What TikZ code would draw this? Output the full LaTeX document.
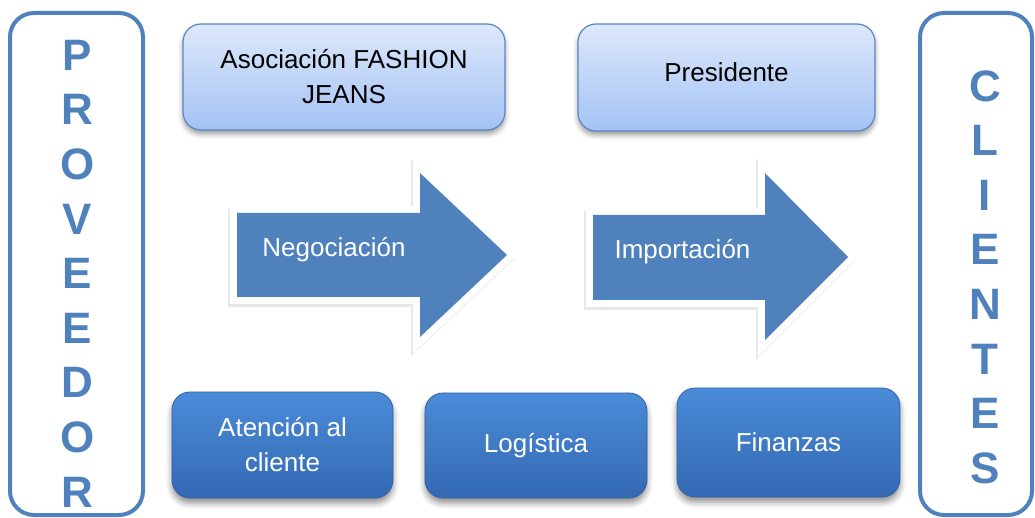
\documentclass[tikz,border=0pt]{standalone}
\usepackage{fontspec}
\setmainfont{Liberation Sans}
\usepackage{xcolor}
\usetikzlibrary{shadows.blur}

\definecolor{sideblue}{HTML}{4F81BD}
\definecolor{lightedge}{HTML}{5A86C4}
\definecolor{lighttop}{HTML}{DDE8FB}
\definecolor{lightbottom}{HTML}{A4C2F4}
\definecolor{darkedge}{HTML}{2F62A6}
\definecolor{darktop}{HTML}{4A8BD8}
\definecolor{darkbottom}{HTML}{3469B3}

\begin{document}
\begin{tikzpicture}[
  x=1pt, y=-1pt,
  every node/.style={font=\fontsize{26}{35}\selectfont},
  sidebox/.style={rectangle, draw=sideblue, line width=4pt,
                  rounded corners=24pt, fill=white, inner sep=0pt},
  sideletters/.style={font=\bfseries\fontsize{44}{54.6}\selectfont,
                      text=sideblue, align=center, inner sep=0pt},
  lightbox/.style={rectangle, rounded corners=18pt, draw=lightedge,
                   line width=1.2pt, top color=lighttop, bottom color=lightbottom,
                   align=center, inner sep=0pt,
                   blur shadow={shadow xshift=0pt, shadow yshift=-4pt,
                                shadow blur radius=5pt, shadow opacity=40}},
  darkbox/.style={rectangle, rounded corners=18pt, draw=darkedge,
                  line width=0.8pt, top color=darktop, bottom color=darkbottom,
                  text=white, align=center, inner sep=0pt,
                  blur shadow={shadow xshift=0pt, shadow yshift=-5pt,
                               shadow blur radius=6pt, shadow opacity=45}},
  arrowhalo/.style={draw=black!9, fill=black!9, line width=14pt,
                    line join=miter, shift={(-2,3)}},
  arrowrim/.style={draw=white, fill=white, line width=14pt, line join=miter},
  arrowfill/.style={fill=sideblue},
  flowlabel/.style={text=white, inner sep=0pt},
]
  \useasboundingbox (0,0) rectangle (1035,518);

  % ── Side columns ─────────────────────────────────
  \node[sidebox, minimum width=133, minimum height=502] (provbox) at (76.5,264) {};
  \node[sidebox, minimum width=112, minimum height=502] (clibox)  at (976,264)  {};
  \node[sideletters] (prov) at (77.5,273.5) {P\\R\\O\\V\\E\\E\\D\\O\\R};
  \node[sideletters] (cli)  at (985,277)    {C\\L\\I\\E\\N\\T\\E\\S};

  % ── Top boxes ────────────────────────────────────
  \node[lightbox, minimum width=322, minimum height=106] (asoc) at (344,77)
       {Asociación FASHION\\JEANS};
  \node[lightbox, minimum width=297, minimum height=107, text depth=10pt]
       (pres) at (726.5,77.5) {Presidente};

  % ── Flow arrows ──────────────────────────────────
  \foreach \lay in {arrowhalo, arrowrim, arrowfill}
    \path[\lay] (237,213) -- (420,213) -- (420,173) -- (507,255)
                -- (420,337) -- (420,297) -- (237,297) -- cycle;
  \foreach \lay in {arrowhalo, arrowrim, arrowfill}
    \path[\lay] (593,215) -- (765,215) -- (765,173) -- (848,257)
                -- (765,340) -- (765,300) -- (593,300) -- cycle;
  \node[flowlabel] (nego) at (334,250)   {Negociación};
  \node[flowlabel] (impo) at (682.5,252) {Importación};

  % ── Bottom boxes ─────────────────────────────────
  \node[darkbox, minimum width=221, minimum height=106] (aten) at (282.5,445)
       {Atención al\\cliente};
  \node[darkbox, minimum width=222, minimum height=105] (logi) at (536,445.5)
       {Logística};
  \node[darkbox, minimum width=223, minimum height=109] (fina) at (788.5,442.5)
       {Finanzas};

\end{tikzpicture}
\end{document}
